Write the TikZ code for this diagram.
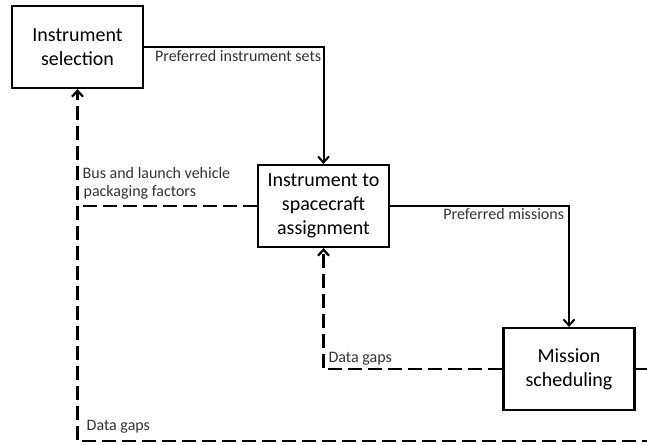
\documentclass[tikz,border=0pt]{standalone}
\usepackage{fontspec}
\setmainfont{Carlito}
\usetikzlibrary{arrows.meta}
\newcommand{\tagcolor}{black!80}
\newcommand{\bigfont}{\fontsize{20}{24}\selectfont}
\newcommand{\smallfont}{\fontsize{16}{18}\selectfont}
\tikzset{
    stagebox/.style={draw, line width=2.2pt, minimum width=131pt,
        minimum height=82pt, align=center, font=\bigfont},
    flow/.style={line width=2pt, -{Straight Barb[length=6pt,width=11pt]}},
    dashline/.style={line width=2.2pt, dash pattern=on 14pt off 6pt},
    feedback/.style={dashline, -{Straight Barb[length=6pt,width=11pt]}},
    tag/.style={font=\smallfont, text=\tagcolor, inner sep=0pt, align=left}
}

\begin{document}
\begin{tikzpicture}[x=1pt,y=-1pt]
\useasboundingbox (0,0) rectangle (647,444);
\clip (0,0) rectangle (647,444);

% stages
\node[stagebox](select) at (77.5,47){Instrument\\selection};
\node[stagebox](assign) at (323.5,206){Instrument to\\spacecraft\\assignment};
\node[stagebox](sched) at (569,369){Mission\\scheduling};

% forward flow
\draw[flow](select.east) -| (assign.north)
    node[tag, pos=0, anchor=base west, xshift=10pt, yshift=-14.5pt]
    {Preferred instrument sets};
\draw[flow](assign.east) -| (sched.north)
    node[tag, pos=0.5, anchor=base east, xshift=-4pt, yshift=-13pt]
    {Preferred missions};

% feedback
\coordinate(busJoin) at (77.5,206);
\coordinate(loopTop) at (700,369);
\coordinate(loopBottom) at (700,441);
\coordinate(loopLeft) at (77.5,441);
\draw[feedback](sched.west) -| (assign.south)
    node[tag, pos=0.5, anchor=base west, xshift=4pt, yshift=7pt]
    {Data gaps};
\draw[dashline](assign.west) -- (busJoin)
    node[tag, pos=1, anchor=base west, xshift=5pt, yshift=10pt]
    {packaging factors};
\node[tag, anchor=base west, xshift=5pt, yshift=28pt] at (busJoin)
    {Bus and launch vehicle};
\draw[feedback](sched.east) -- (loopTop) -- (loopBottom) --
    (loopLeft) -- (select.south);
\node[tag, anchor=base west, xshift=9pt, yshift=10.5pt] at (loopLeft)
    {Data gaps};

\end{tikzpicture}
\end{document}
